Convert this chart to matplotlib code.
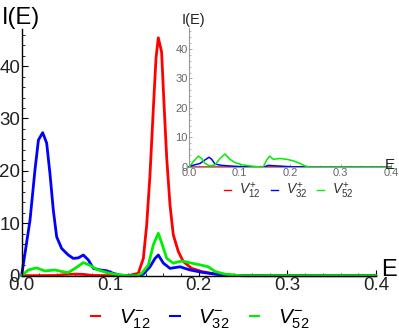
import matplotlib
matplotlib.use("Agg")
import matplotlib.pyplot as plt
from matplotlib.ticker import MultipleLocator
from matplotlib.lines import Line2D

plt.rcParams['font.family'] = ['Liberation Sans', 'DejaVu Sans']
plt.rcParams['mathtext.fontset'] = 'custom'
plt.rcParams['mathtext.rm'] = 'Liberation Sans'
plt.rcParams['mathtext.it'] = 'Liberation Sans:italic'

# ---- main plot data (V^-) ----
e_red = [0.0, 0.04, 0.05, 0.06, 0.07, 0.08, 0.12, 0.1317, 0.1374, 0.1412, 0.1449, 0.1487, 0.1517,
         0.1543, 0.158, 0.161, 0.1638, 0.1675, 0.1712, 0.1769, 0.1825, 0.192, 0.2033, 0.2146,
         0.2296, 0.25, 0.4]
i_red = [0.0, 0.05, 0.25, 0.3, 0.25, 0.05, 0.0, 0.45, 3.3, 9.7, 19.2, 31.9, 41.5,
         45.4, 42.7, 31.9, 22.4, 13.5, 7.8, 4.6, 2.7, 1.4, 0.8, 0.45,
         0.15, 0.02, 0.0]

e_blue = [0.0, 0.0095, 0.0151, 0.019, 0.0238, 0.0283, 0.032, 0.0358, 0.0396, 0.0452, 0.0527,
          0.0584, 0.064, 0.0697, 0.0753, 0.081, 0.0885, 0.096, 0.1035, 0.111, 0.12, 0.131,
          0.1374, 0.1449, 0.1506, 0.1543, 0.16, 0.1675, 0.1788, 0.19, 0.2033, 0.2183, 0.232,
          0.25, 0.4]
i_blue = [0.0, 10.6, 20.2, 25.9, 27.3, 25.3, 19.5, 12.5, 7.4, 5.2, 3.95,
          3.3, 3.4, 3.95, 3.0, 1.4, 1.1, 0.95, 0.45, 0.1, 0.0, 0.0,
          0.3, 1.7, 3.3, 3.95, 2.4, 1.4, 1.7, 1.1, 0.65, 0.3, 0.1,
          0.0, 0.0]

e_green = [0.0, 0.0076, 0.017, 0.0264, 0.0377, 0.0452, 0.0527, 0.0603, 0.0697, 0.077, 0.0848,
           0.096, 0.107, 0.12, 0.13, 0.1355, 0.143, 0.1487, 0.1543, 0.1588, 0.1638, 0.1712,
           0.1807, 0.192, 0.2033, 0.2107, 0.2183, 0.2296, 0.24, 0.25, 0.4]
i_green = [0.0, 1.1, 1.5, 0.9, 1.1, 0.8, 0.6, 1.4, 2.5, 2.0, 1.2,
           0.6, 0.25, 0.0, 0.0, 0.45, 2.0, 5.9, 8.1, 5.9, 3.3, 2.4,
           2.8, 2.4, 2.0, 1.7, 0.8, 0.3, 0.1, 0.0, 0.0]

# ---- inset data (V^+) ----
ein_red = [0.0, 0.4]
iin_red = [0.0, 0.0]

ein_blue = [0.0, 0.005, 0.0218, 0.0317, 0.0396, 0.045, 0.0515, 0.0647, 0.085, 0.105, 0.13,
            0.15, 0.157, 0.17, 0.2, 0.24, 0.4]
iin_blue = [0.0, 0.45, 1.2, 2.4, 3.3, 2.6, 1.0, 0.55, 0.3, 0.1, 0.0,
            0.1, 0.55, 0.4, 0.1, 0.0, 0.0]

ein_green = [0.0, 0.0086, 0.0185, 0.025, 0.0317, 0.0416, 0.0515, 0.0614, 0.0713, 0.0812, 0.091,
             0.1043, 0.121, 0.137, 0.147, 0.1538, 0.16, 0.167, 0.18, 0.1934, 0.2066, 0.22,
             0.23, 0.24, 0.4]
iin_green = [0.0, 1.8, 3.7, 2.9, 1.2, 0.35, 0.7, 2.9, 4.4, 2.6, 1.5,
             0.8, 0.35, 0.1, 0.0, 2.4, 3.7, 2.6, 2.9, 2.6, 2.1, 1.2,
             0.35, 0.0, 0.0]

main_labels = [r'$V_{12}^{-}$', r'$V_{32}^{-}$', r'$V_{52}^{-}$']
inset_labels = [r'$V_{12}^{+}$', r'$V_{32}^{+}$', r'$V_{52}^{+}$']
colors = ['#ff0000', '#0000ff', '#00ee00']

W, H = 399, 332
fig = plt.figure(figsize=(W / 100, H / 100), dpi=100)

def px_axes(x0, x1, y0, y1):
    return [x0 / W, 1 - y1 / H, (x1 - x0) / W, (y1 - y0) / H]

# main axes
ax = fig.add_axes(px_axes(21.6, 376, 29.4, 275.7))
for e, i, c in zip([e_red, e_blue, e_green], [i_red, i_blue, i_green], colors):
    ax.plot(e, i, color=c, lw=2.0, solid_joinstyle='round', solid_capstyle='round',
            clip_on=False)
ax.set_xlim(0, 0.4)
ax.set_ylim(0, 47)
for s in ['top', 'right']:
    ax.spines[s].set_visible(False)
for s in ['left', 'bottom']:
    ax.spines[s].set_color('black')
    ax.spines[s].set_linewidth(1.0)
ax.xaxis.set_minor_locator(MultipleLocator(0.02))
ax.yaxis.set_major_locator(MultipleLocator(10))
ax.yaxis.set_minor_locator(MultipleLocator(2))
ax.set_xticks([0.0, 0.1, 0.2, 0.3, 0.4])
ax.set_xticklabels(['0.0', '0.1', '0.2', '0.3', '0.4'])
ax.tick_params(which='both', direction='in', colors='black', labelcolor='#222222',
               labelsize=13.5, pad=1)
ax.tick_params(which='major', length=4, width=0.8)
ax.tick_params(which='minor', length=2, width=0.6)
ax.patch.set_alpha(0)
fig.text(21 / W, 1 - 18 / H, 'I(E)', fontsize=17, ha='center', va='center')
fig.text(389 / W, 1 - 270 / H, 'E', fontsize=17, ha='center', va='center')

handles = [Line2D([], [], color=c, lw=1.5) for c in colors]
fig.legend(handles, main_labels, loc='center', bbox_to_anchor=(200 / W, 1 - 319 / H),
           ncol=3, frameon=False, fontsize=15, handlelength=0.45, handletextpad=0.9,
           columnspacing=0.95)

# inset axes
axi = fig.add_axes(px_axes(189, 391, 28.3, 167))
for e, i, c in zip([ein_red, ein_blue, ein_green], [iin_red, iin_blue, iin_green], colors):
    axi.plot(e, i, color=c, lw=1.1, solid_joinstyle='round', clip_on=False)
axi.set_xlim(0, 0.4)
axi.set_ylim(0, 47)
for s in ['top', 'right']:
    axi.spines[s].set_visible(False)
for s in ['left', 'bottom']:
    axi.spines[s].set_color('#999999')
    axi.spines[s].set_linewidth(0.8)
axi.set_xticks([0.0, 0.1, 0.2, 0.3, 0.4])
axi.set_xticklabels(['0.0', '0.1', '0.2', '0.3', '0.4'])
axi.xaxis.set_minor_locator(MultipleLocator(0.02))
axi.yaxis.set_major_locator(MultipleLocator(10))
axi.yaxis.set_minor_locator(MultipleLocator(2))
axi.tick_params(which='both', direction='in', colors='#999999', labelcolor='#666666',
                labelsize=8, pad=1)
axi.tick_params(which='major', length=2.5, width=0.6)
axi.tick_params(which='minor', length=1.2, width=0.5)
axi.patch.set_alpha(0)
fig.text(193 / W, 1 - 20 / H, 'I(E)', fontsize=10.5, ha='center', va='center', color='#222222')
fig.text(390 / W, 1 - 165 / H, 'E', fontsize=11, ha='center', va='center', color='#222222')

handles_i = [Line2D([], [], color=c, lw=1.0) for c in colors]
fig.legend(handles_i, inset_labels, loc='center', bbox_to_anchor=(289 / W, 1 - 191 / H),
           ncol=3, frameon=False, fontsize=10, handlelength=0.5, handletextpad=0.6,
           columnspacing=0.7, labelcolor='#333333')

fig.savefig('out.png', dpi=100)
